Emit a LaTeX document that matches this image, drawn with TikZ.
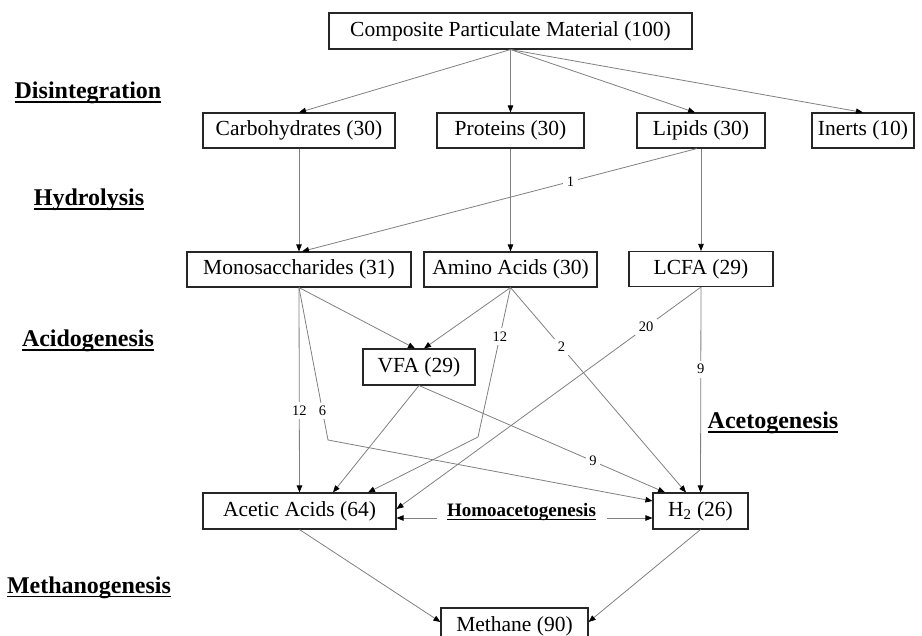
\documentclass[tikz,border=0pt]{standalone}
\usepackage{fontspec}
\setmainfont{Liberation Serif}
\usetikzlibrary{arrows.meta,calc}
\newcommand\ulb[2][1.4pt]{\setbox0=\hbox{#2}\dp0=0pt\vtop{\box0\kern2.5pt\hrule height #1}}
\begin{document}
\begin{tikzpicture}[x=1pt,y=-1pt,
  box/.style={draw=black!85, line width=1.1pt, fill=white, minimum height=35pt, inner sep=0pt, font=\fontsize{21.5}{24}\selectfont},
  lbl/.style={fill=white, inner sep=3.5pt, font=\fontsize{14.5}{16}\selectfont},
  stage/.style={anchor=base, inner sep=0pt, font=\fontsize{24}{28}\selectfont\bfseries},
  arr/.style={draw=black!50, line width=0.8pt, -{Triangle[length=7pt,width=5.5pt,color=black]}},
]
\useasboundingbox (0,0) rectangle (922,636);
\node[box, minimum width=363pt, minimum height=36pt] (comp) at (510.5,31) {Composite Particulate Material (100)};
\node[box, minimum width=192pt] (carb) at (299,130.5) {Carbohydrates (30)};
\node[box, minimum width=147pt] (prot) at (510.5,130.5) {Proteins (30)};
\node[box, minimum width=128pt] (lip) at (701,130.5) {Lipids (30)};
\node[box, minimum width=102pt] (inert) at (863,130.5) {Inerts (10)};
\node[box, minimum width=224pt] (mono) at (299,269.5) {Monosaccharides (31)};
\node[box, minimum width=173pt] (amino) at (510.5,269.5) {Amino Acids (30)};
\node[box, minimum width=144pt] (lcfa) at (701,269) {LCFA (29)};
\node[box, minimum width=112pt, minimum height=36pt] (vfa) at (419,367) {VFA (29)};
\node[box, minimum width=193pt, minimum height=36pt] (acetic) at (299.5,511) {Acetic Acids (64)};
\node[box, minimum width=95pt, minimum height=36pt] (h2) at (700.5,511) {H\textsubscript{2} (26)};
\node[box, minimum width=147pt, minimum height=36pt] (meth) at (514.5,626) {Methane (90)};

\draw[arr] (comp.south) -- (carb.north);
\draw[arr] (comp.south) -- (prot.north);
\draw[arr] (comp.south) -- ($(lip.north)+(-6,0)$);
\draw[arr] (comp.south) -- (inert.north);
\draw[arr] (carb.south) -- (mono.north);
\draw[arr] (prot.south) -- (amino.north);
\draw[arr] ($(lip.south)+(-4,0)$) -- node[lbl,pos=0.32]{1} ($(mono.north)+(3,0)$);
\draw[arr] (lip.south) -- (lcfa.north);
\draw[arr] (mono.south) -- ($(vfa.north)+(-4,0)$);
\draw[arr] (amino.south) -- ($(vfa.north)+(5,0)$);
\draw[arr] (mono.south) -- node[lbl,pos=0.6]{12} (acetic.north);
\coordinate (mb) at (328,440);
\draw[arr] (mono.south) -- node[lbl,pos=0.81]{6} (mb) -- ($(h2.west)+(0,-10)$);
\coordinate (ab) at (478,437);
\draw[arr] (amino.south) -- node[lbl,pos=0.327]{12} (ab) -- ($(acetic.north)+(68.5,0)$);
\draw[arr] (amino.south) -- node[lbl,pos=0.29]{2} ($(h2.north)+(-14.5,0)$);
\draw[arr] (vfa.south) -- ($(acetic.north)+(33.5,0)$);
\draw[arr] (vfa.south) -- node[lbl,pos=0.707]{9} ($(h2.north)+(-35.5,0)$);
\draw[arr] (lcfa.south) -- node[lbl,pos=0.18]{20} ($(acetic.east)+(0,-2)$);
\draw[arr] (lcfa.south) -- node[lbl,pos=0.4]{9} (h2.north);

\node[stage] (dis) at (88,99) {\ulb{Disintegration}};
\node[stage] (hyd) at (89,206) {\ulb{Hydrolysis}};
\node[stage] (acid) at (88,347) {\ulb{Acidogenesis}};
\node[stage] (aceto) at (773,429) {\ulb{Acetogenesis}};
\node[stage] (methano) at (89,593) {\ulb{Methanogenesis}};
\node[stage, font=\fontsize{19}{22}\selectfont\bfseries] (homo) at (521.5,516) {\ulb[1.1pt]{Homoacetogenesis}};
\coordinate (hl) at (437,518);
\coordinate (hr) at (607,518);
\draw[arr] (hl) -- (acetic.east |- hl);
\draw[arr] (hr) -- (h2.west |- hr);
\draw[arr] (acetic.south) -- ($(meth.west)+(0,-4)$);
\draw[arr] (h2.south) -- ($(meth.east)+(0,-4)$);
\end{tikzpicture}
\end{document}
